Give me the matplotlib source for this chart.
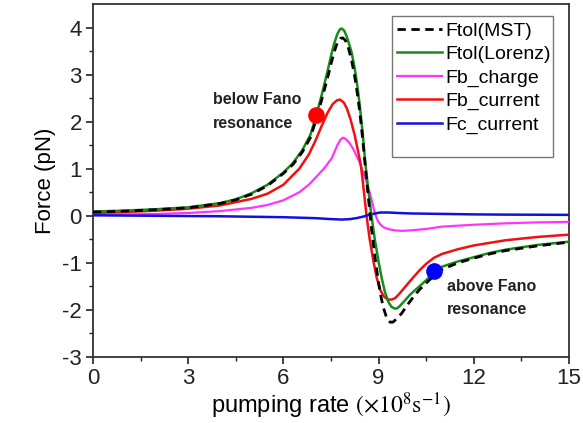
import matplotlib
matplotlib.use("Agg")
import matplotlib.pyplot as plt
from matplotlib.patches import Rectangle

plt.rcParams['font.family'] = ['Liberation Sans', 'DejaVu Sans']
plt.rcParams['mathtext.fontset'] = 'stix'
plt.rcParams['axes.unicode_minus'] = False

# ---- data ----
x_lorenz = [0, 1, 2, 3, 4, 4.5, 5, 5.5, 6, 6.3, 6.6, 6.85, 7.03, 7.2, 7.4, 7.52, 7.6, 7.7, 7.78, 7.84, 7.92,
            8.0, 8.08, 8.15, 8.25, 8.33, 8.4, 8.45, 8.5, 8.57, 8.65, 8.72, 8.78, 8.88, 8.99, 9.1, 9.2, 9.3,
            9.4, 9.5, 9.57, 9.65, 9.8, 10.0, 10.3, 10.5, 10.75, 11.0, 11.5, 12.0, 12.5, 13.0, 14.0, 15.0]
y_lorenz = [0.09, 0.11, 0.14, 0.18, 0.27, 0.35, 0.48, 0.66, 0.92, 1.12, 1.4, 1.72, 2.12, 2.55, 3.1, 3.45, 3.66, 3.86, 3.96, 3.98, 3.93,
            3.8, 3.63, 3.47, 3.12, 2.76, 2.38, 2.06, 1.75, 1.2, 0.7, 0.3, -0.02, -0.5, -0.94, -1.33, -1.62, -1.82,
            -1.93, -1.97, -1.97, -1.93, -1.82, -1.67, -1.49, -1.37, -1.19, -1.08, -0.97, -0.88, -0.79, -0.72, -0.62, -0.55]

x_mst = [0, 1, 2, 3, 4, 4.5, 5, 5.5, 6, 6.3, 6.6, 6.85, 7.03, 7.2, 7.4, 7.52, 7.6, 7.7, 7.8, 7.87, 7.95,
         8.05, 8.15, 8.25, 8.33, 8.4, 8.45, 8.5, 8.57, 8.65, 8.72, 8.78, 8.88, 8.99, 9.05, 9.15, 9.25, 9.36,
         9.45, 9.55, 9.73, 9.9, 10.1, 10.3, 10.5, 10.75, 11.0, 11.5, 12.0, 12.5, 13.0, 14.0, 15.0]
y_mst = [0.08, 0.10, 0.13, 0.17, 0.26, 0.34, 0.46, 0.64, 0.90, 1.09, 1.36, 1.66, 2.04, 2.45, 2.95, 3.28, 3.48, 3.68, 3.77, 3.78, 3.73,
         3.56, 3.3, 2.95, 2.6, 2.24, 1.94, 1.62, 1.12, 0.57, 0.1, -0.3, -0.85, -1.38, -1.64, -1.95, -2.16, -2.26,
         -2.26, -2.2, -2.07, -1.9, -1.72, -1.56, -1.43, -1.27, -1.14, -1.0, -0.9, -0.81, -0.74, -0.64, -0.56]

x_bcur = [0, 1, 2, 3, 4, 5, 5.5, 6, 6.5, 6.8, 7.0, 7.2, 7.4, 7.55, 7.68, 7.78, 7.9, 8.0, 8.12, 8.25, 8.35,
          8.44, 8.52, 8.62, 8.72, 8.83, 8.94, 9.05, 9.15, 9.25, 9.33, 9.41, 9.52, 9.65, 9.8, 10.0, 10.3,
          10.5, 10.75, 11.0, 11.5, 12.0, 13.0, 14.0, 15.0]
y_bcur = [0.06, 0.08, 0.11, 0.15, 0.22, 0.36, 0.47, 0.66, 1.0, 1.3, 1.58, 1.9, 2.2, 2.37, 2.45, 2.47, 2.41, 2.28, 2.04, 1.7, 1.38,
          1.08, 0.62, 0.0, -0.5, -0.94, -1.32, -1.57, -1.7, -1.76, -1.78, -1.78, -1.75, -1.66, -1.54, -1.38, -1.15,
          -1.02, -0.89, -0.81, -0.71, -0.63, -0.52, -0.45, -0.40]

x_bchg = [0, 2, 3, 4, 5, 5.5, 6, 6.5, 6.8, 7.0, 7.3, 7.52, 7.7, 7.8, 7.88, 7.97, 8.08, 8.2, 8.3, 8.38,
          8.5, 8.62, 8.73, 8.82, 8.9, 8.97, 9.05, 9.15, 9.3, 9.5, 9.75, 10.0, 10.5, 11.0, 12.0, 13.0, 14.0, 15.0]
y_bchg = [0.02, 0.04, 0.06, 0.10, 0.17, 0.23, 0.33, 0.5, 0.66, 0.8, 1.02, 1.22, 1.5, 1.62, 1.66, 1.63, 1.55, 1.42, 1.28, 1.17,
          0.95, 0.72, 0.47, 0.22, 0.02, -0.1, -0.18, -0.24, -0.28, -0.31, -0.32, -0.31, -0.28, -0.23, -0.19, -0.16, -0.14, -0.13]

x_ccur = [0, 2, 4, 5, 6, 6.5, 7.0, 7.5, 7.85, 8.1, 8.3, 8.5, 8.7, 8.9, 9.05, 9.3, 9.6, 10.0, 11.0, 12.0, 13.0, 15.0]
y_ccur = [0.01, 0.0, -0.01, -0.02, -0.03, -0.04, -0.05, -0.07, -0.08, -0.07, -0.05, -0.02, 0.02, 0.05, 0.07, 0.07, 0.06, 0.05, 0.04, 0.03, 0.025, 0.02]

below_pt = (7.03, 2.15)
above_pt = (10.75, -1.17)

xticks = [0, 3, 6, 9, 12, 15]
yticks = [-3, -2, -1, 0, 1, 2, 3, 4]

# ---- figure ----
fig = plt.figure(figsize=(5.83, 4.23), dpi=100)
ax = fig.add_axes([93/583, 1-357/423, (569-93)/583, (357-4)/423])

ax.plot(x_mst, y_mst, color='black', lw=2.0, ls=(0, (3, 2)), label='Ftol(MST)', zorder=5)
ax.plot(x_lorenz, y_lorenz, color='#1a8a1a', lw=1.8, label='Ftol(Lorenz)', zorder=4)
ax.plot(x_bchg, y_bchg, color='#ff33ff', lw=1.6, label='Fb_charge', zorder=3)
ax.plot(x_bcur, y_bcur, color='#ee1111', lw=1.8, label='Fb_current', zorder=3)
ax.plot(x_ccur, y_ccur, color='#1111dd', lw=1.8, label='Fc_current', zorder=3)

ax.plot(*below_pt, 'o', color='#ff0000', ms=11, zorder=6)
ax.plot(*above_pt, 'o', color='#0000ff', ms=11, zorder=6)

ax.text(3.78, 2.22, 'below Fano\nresonance', fontsize=11.5, fontweight='bold', color='#222222',
        va='center', ha='left', linespacing=1.7)
ax.text(11.16, -1.75, 'above Fano\nresonance', fontsize=11.5, fontweight='bold', color='#222222',
        va='center', ha='left', linespacing=1.7)

ax.set_xlim(0, 15)
ax.set_ylim(-3, 4.5)
ax.set_xticks(xticks)
ax.set_yticks(yticks)
ax.set_xticks([1.5, 4.5, 7.5, 10.5, 13.5], minor=True)
ax.set_yticks([-2.5, -1.5, -0.5, 0.5, 1.5, 2.5, 3.5], minor=True)
ax.tick_params(which='major', direction='out', length=5, width=1.2, labelsize=16, colors='#222222', pad=3)
ax.tick_params(which='minor', direction='out', length=3, width=1.0, colors='#222222')
for s in ax.spines.values():
    s.set_linewidth(1.3)
    s.set_color('#333333')

ax.set_xlabel(r'pumping rate $(\times10^{8}\mathrm{s}^{-1})$', fontsize=17, labelpad=1)
ax.set_ylabel('Force (pN)', fontsize=16, labelpad=4)

leg = ax.legend(loc='upper left', bbox_to_anchor=(397/583, 1-22/423), bbox_transform=fig.transFigure,
                frameon=False, fontsize=14, handlelength=2.3, handletextpad=0.2, labelspacing=0.3,
                borderpad=0, borderaxespad=0)
fig.patches.append(Rectangle((392/583, 1-157/423), (553-392)/583, (157-16)/423, transform=fig.transFigure,
                             fill=False, edgecolor='#777777', lw=1.0, zorder=10))

fig.savefig('out.png', dpi=100)
